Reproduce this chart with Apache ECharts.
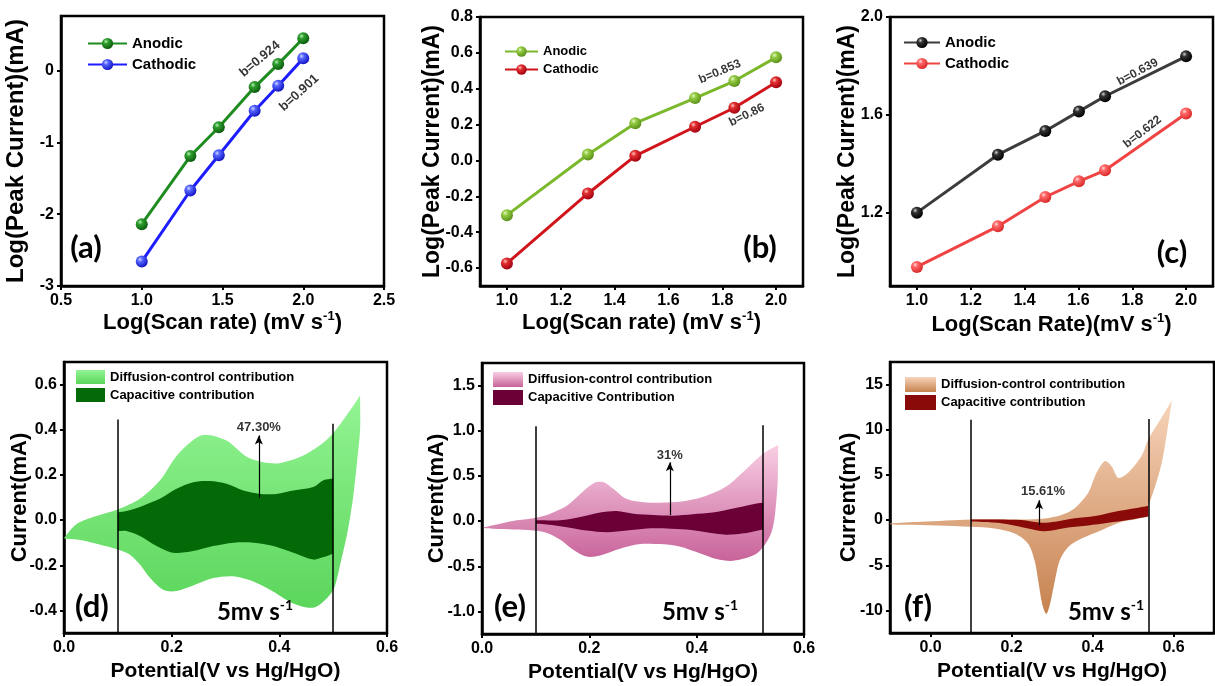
<!DOCTYPE html>
<html><head><meta charset="utf-8">
<script src="https://cdn.jsdelivr.net/npm/echarts@6/dist/echarts.min.js"></script>
<style>html,body{margin:0;padding:0;background:#fff}#c{width:1215px;height:686px}</style>
</head><body><div id="c"></div>
<script>
// ---------- DATA ----------
const scanLogAB = [1.0, 1.301, 1.477, 1.699, 1.845, 2.0];
const aAnodic   = [-2.14, -1.19, -0.79, -0.23, 0.09, 0.45];
const aCathodic = [-2.66, -1.67, -1.18, -0.56, -0.21, 0.17];
const bAnodic   = [-0.305, 0.033, 0.208, 0.348, 0.443, 0.575];
const bCathodic = [-0.574, -0.184, 0.026, 0.188, 0.294, 0.436];
const scanLogC  = [1.0, 1.301, 1.477, 1.602, 1.699, 2.0];
const cAnodic   = [1.2, 1.437, 1.534, 1.614, 1.676, 1.839];
const cCathodic = [0.978, 1.144, 1.264, 1.328, 1.373, 1.605];

const dDiffusion = [[0,-0.08],[0.023,-0.018],[0.06,0.018],[0.1,0.047],[0.141,0.094],[0.178,0.175],[0.209,0.284],[0.24,0.355],[0.262,0.378],[0.302,0.352],[0.339,0.28],[0.37,0.256],[0.40,0.252],[0.439,0.28],[0.476,0.333],[0.5,0.385],[0.526,0.467],[0.55,0.552],
  [0.55,0.40],[0.544,0.25],[0.537,0.10],[0.527,-0.048],[0.513,-0.197],[0.502,-0.30],[0.488,-0.347],[0.463,-0.388],
  [0.426,-0.369],[0.389,-0.317],[0.352,-0.272],[0.314,-0.249],[0.277,-0.257],[0.24,-0.29],[0.209,-0.314],[0.185,-0.31],[0.16,-0.257],[0.141,-0.197],[0.122,-0.152],[0.1,-0.13],[0.066,-0.108],[0.035,-0.09],[0.003,-0.082]];
const dCapacitive = [[0.1,0.034],[0.116,0.04],[0.147,0.064],[0.178,0.094],[0.209,0.139],[0.24,0.168],[0.271,0.173],[0.302,0.161],[0.333,0.131],[0.364,0.116],[0.395,0.116],[0.426,0.131],[0.463,0.146],[0.482,0.176],[0.5,0.184],
  [0.5,-0.149],[0.482,-0.164],[0.463,-0.175],[0.426,-0.145],[0.389,-0.115],[0.352,-0.10],[0.315,-0.10],[0.277,-0.115],[0.24,-0.137],[0.203,-0.145],[0.172,-0.115],[0.141,-0.07],[0.116,-0.048],[0.1,-0.048]];

const eDiffusion = [[0.003,-0.075],[0.034,-0.03],[0.065,0.008],[0.101,0.037],[0.127,0.082],[0.158,0.169],[0.183,0.30],[0.208,0.42],[0.227,0.43],[0.245,0.356],[0.27,0.244],[0.307,0.206],[0.344,0.206],[0.381,0.225],[0.418,0.281],[0.455,0.382],[0.493,0.58],[0.524,0.749],[0.552,0.843],
  [0.551,0.45],[0.546,0.075],[0.54,-0.112],[0.527,-0.262],[0.508,-0.374],
  [0.468,-0.44],[0.437,-0.42],[0.406,-0.356],[0.368,-0.281],[0.331,-0.255],[0.294,-0.255],[0.257,-0.307],[0.22,-0.382],[0.195,-0.393],[0.17,-0.318],[0.146,-0.206],[0.121,-0.131],[0.096,-0.105],[0.059,-0.094],[0.022,-0.086]];
const eCapacitive = [[0.101,0.008],[0.146,0.008],[0.183,0.045],[0.22,0.094],[0.251,0.112],[0.282,0.082],[0.319,0.067],[0.356,0.06],[0.393,0.075],[0.43,0.094],[0.468,0.139],[0.505,0.187],[0.524,0.206],
  [0.524,-0.094],[0.493,-0.131],[0.455,-0.15],[0.418,-0.124],[0.381,-0.094],[0.344,-0.082],[0.307,-0.082],[0.27,-0.105],[0.233,-0.124],[0.195,-0.105],[0.158,-0.067],[0.121,-0.037],[0.101,-0.03]];

const fDiffusion = [[-0.1,-0.37],[-0.023,-0.19],[0.1,0.07],[0.224,0.07],[0.282,0.18],[0.323,0.56],[0.356,1.31],[0.389,2.99],[0.41,5.23],[0.431,6.53],[0.447,5.97],[0.464,4.67],[0.488,5.23],[0.521,7.09],[0.538,8.96],[0.563,10.8],[0.596,13.25],
  [0.585,10.0],[0.571,6.35],[0.546,2.6],[0.521,0.37],
  [0.472,-0.19],[0.422,-1.12],[0.373,-2.05],[0.34,-2.99],[0.319,-4.48],[0.307,-6.72],[0.295,-9.33],[0.286,-10.4],[0.276,-9.33],[0.266,-6.72],[0.257,-4.48],[0.241,-2.61],[0.208,-1.49],[0.158,-0.93],[0.1,-0.75],[0.018,-0.6],[-0.064,-0.52],[-0.1,-0.45]];
const fCapacitive = [[0.1,0.07],[0.166,0.07],[0.224,0.0],[0.274,-0.3],[0.307,-0.19],[0.356,0.19],[0.406,0.45],[0.455,0.93],[0.505,1.31],[0.538,1.6],
  [0.538,0.4],[0.488,0],[0.439,-0.3],[0.389,-0.6],[0.34,-0.82],[0.282,-1.23],[0.241,-0.93],[0.191,-0.45],[0.141,-0.22],[0.1,-0.15]];

const ticksAx = [0.5,1.0,1.5,2.0,2.5], ticksAy = [-3,-2,-1,0];
const ticksBCx = [1.0,1.2,1.4,1.6,1.8,2.0];
const ticksBy = [-0.6,-0.4,-0.2,0.0,0.2,0.4,0.6,0.8];
const ticksCy = [1.2,1.6,2.0];
const ticksDEFx = [0.0,0.2,0.4,0.6];
const ticksDy = [-0.4,-0.2,0.0,0.2,0.4,0.6];
const ticksEy = [-1.0,-0.5,0.0,0.5,1.0,1.5];
const ticksFy = [-10,-5,0,5,10,15];

// ---------- CHART ----------
const F = 'Liberation Sans';
const chart = echarts.init(document.getElementById('c'));
const G = echarts.graphic;

function sphere(hi, base, dark){
  return new G.RadialGradient(0.36,0.32,0.7,[{offset:0,color:hi},{offset:0.3,color:base},{offset:1,color:dark}]);
}
function vgrad(c1,c2){ return new G.LinearGradient(0,0,0,1,[{offset:0,color:c1},{offset:1,color:c2}]); }

function axis(gi,min,max,ticks,dec,name,gap,fs,isX){
  return {
    type:'value', gridIndex:gi, min, max, position: isX?'bottom':'left',
    name, nameLocation:'middle', nameGap:gap, nameMoveOverlap:false,
    nameTextStyle:{fontFamily:F,fontWeight:'bold',fontSize:fs,color:'#000',lineHeight:26,
      rich:{sup:{fontFamily:F,fontWeight:'bold',fontSize:13,color:'#000',verticalAlign:'top',lineHeight:16}}},
    axisLine:{show:true,onZero:false,lineStyle:{color:'#000',width:2.5}},
    axisTick:{show:true,inside:false,length:4,lineStyle:{color:'#000',width:2},customValues:ticks},
    axisLabel:{customValues:ticks,formatter:v=>Number(v).toFixed(dec),fontFamily:F,fontWeight:'bold',fontSize:16,color:'#000',margin:7},
    splitLine:{show:false}
  };
}

function lineSeries(name,gi,xs,ys,color,hi,base,dark){
  return {type:'line',name,xAxisIndex:gi,yAxisIndex:gi,data:xs.map((x,i)=>[x,ys[i]]),
    symbol:'circle',symbolSize:12,lineStyle:{color,width:3},itemStyle:{color:sphere(hi,base,dark)},z:4};
}
// corners: indices of vertices drawn as sharp corners (rendering style only)
function polySeries(name,gi,pts,fill,z,corners){
  return {type:'custom',name,xAxisIndex:gi,yAxisIndex:gi,data:pts,itemStyle:{color:fill},z,silent:true,clip:true,
    renderItem:(params,api)=>{
      if(params.dataIndex!==0) return null;
      const px=[];
      pts.forEach((p,i)=>{const c=api.coord(p); px.push(c); if(corners.indexOf(i)>=0) px.push([c[0],c[1]]);});
      return {type:'polygon',shape:{points:px,smooth:0.3},style:{fill:fill}};
    }};
}
function annSeries(gi,items,fs,lines){
  return {type:'scatter',name:'ann'+gi,xAxisIndex:gi,yAxisIndex:gi,symbolSize:0,silent:true,z:6,
    data:items.map(it=>({value:it.v,name:it.t,label:{rotate:it.r||0}})),
    label:{show:true,position:'inside',formatter:p=>p.name,fontFamily:F,fontWeight:'bold',fontSize:fs,color:'#000'},
    markLine: lines ? {silent:true,symbol:['none','none'],label:{show:false},animation:false,
      lineStyle:{color:'#000',width:1.5,type:'solid'},data:lines} : undefined};
}
function vline(x,y0,y1){ return [{coord:[x,y0]},{coord:[x,y1]}]; }
function arrow(x,y0,y1){ return [{coord:[x,y0],lineStyle:{width:1.2}},{coord:[x,y1],symbol:'arrow',symbolSize:[6,9]}]; }

function legend(left,top,names,iw,ih,gap,fs,icon){
  const l = {left,top,orient:'vertical',padding:0,itemWidth:iw,itemHeight:ih,itemGap:gap,selectedMode:false,
    data:names,formatter:n=>n.split('#')[0],
    textStyle:{fontFamily:F,fontWeight:'bold',fontSize:fs,color:'#000'}};
  if(icon) l.icon=icon;
  return l;
}

const option = {
  animation:false,
  backgroundColor:'#fff',
  grid:[
    {left:61,top:16,width:323,height:270},
    {left:480,top:17,width:323,height:269},
    {left:890,top:17,width:323,height:269},
    {left:64,top:362,width:323,height:271},
    {left:482,top:363,width:322,height:271},
    {left:890,top:362,width:324,height:271}
  ].map(g=>Object.assign(g,{show:true,borderColor:'#000',borderWidth:2.5,outerBoundsMode:'none',containLabel:false})),
  xAxis:[
    axis(0,0.5,2.5,ticksAx,1,'Log(Scan rate) (mV s{sup|-1})',24,22,true),
    axis(1,0.9,2.1,ticksBCx,1,'Log(Scan rate) (mV s{sup|-1})',24,22,true),
    axis(2,0.9,2.1,ticksBCx,1,'Log(Scan Rate)(mV s{sup|-1})',26,22,true),
    axis(3,0,0.6,ticksDEFx,1,'Potential(V vs Hg/HgO)',25,21,true),
    axis(4,0,0.6,ticksDEFx,1,'Potential(V vs Hg/HgO)',25,21,true),
    axis(5,-0.1,0.7,ticksDEFx,1,'Potential(V vs Hg/HgO)',25,21,true)
  ],
  yAxis:[
    axis(0,-3,0.76,ticksAy,0,'Log(Peak Current)(mA)',32,24,false),
    axis(1,-0.7,0.8,ticksBy,1,'Log(Peak Current)(mA)',34,23,false),
    axis(2,0.9,2.0,ticksCy,1,'Log(Peak Current)(mA)',29,23,false),
    axis(3,-0.5,0.7,ticksDy,1,'Current(mA)',31,22,false),
    axis(4,-1.25,1.75,ticksEy,1,'Current(mA)',32,22,false),
    axis(5,-12.5,17.5,ticksFy,0,'Current(mA)',28,22,false)
  ],
  legend:[
    legend(87,36,['Anodic#a','Cathodic#a'],39,14,6,15),
    legend(504,45,['Anodic#b','Cathodic#b'],33,13,5,13),
    legend(903,35,['Anodic#c','Cathodic#c'],36,14,6,15),
    legend(76,370,['Diffusion-control contribution#d','Capacitive contribution#d'],29,14,4,13,'rect'),
    legend(493,372,['Diffusion-control contribution#e','Capacitive Contribution#e'],30,15,3,13,'rect'),
    legend(905,377,['Diffusion-control contribution#f','Capacitive contribution#f'],31,15,3,13,'rect')
  ],
  series:[
    lineSeries('Anodic#a',0,scanLogAB,aAnodic,'#1f8c1f','#b8f0b8','#2e9e2e','#0b5a0b'),
    lineSeries('Cathodic#a',0,scanLogAB,aCathodic,'#1d1dff','#d0d6ff','#5566ff','#1212c0'),
    lineSeries('Anodic#b',1,scanLogAB,bAnodic,'#7cb82c','#e6f7c8','#94cc44','#5a8f18'),
    lineSeries('Cathodic#b',1,scanLogAB,bCathodic,'#d0151b','#ffc8c8','#e23030','#a00010'),
    lineSeries('Anodic#c',2,scanLogC,cAnodic,'#3c3c3c','#d0d0d0','#333333','#000000'),
    lineSeries('Cathodic#c',2,scanLogC,cCathodic,'#f04444','#ffd8d8','#ff6666','#d82828'),
    polySeries('Diffusion-control contribution#d',3,dDiffusion,vgrad('#93f493','#5cd65c'),2,[17]),
    polySeries('Capacitive contribution#d',3,dCapacitive,'#046a08',3,[0,14,15,28]),
    polySeries('Diffusion-control contribution#e',4,eDiffusion,vgrad('#f9cfe4','#c8639a'),2,[18]),
    polySeries('Capacitive Contribution#e',4,eCapacitive,'#6b0036',3,[0,12,13,25]),
    polySeries('Diffusion-control contribution#f',5,fDiffusion,vgrad('#f7d4bb','#c6824f'),2,[16]),
    polySeries('Capacitive contribution#f',5,fCapacitive,'#8a0a0a',3,[0,9,10,19]),
    annSeries(0,[{v:[1.732,0.16],t:'b=0.924',r:40},{v:[1.975,-0.31],t:'b=0.901',r:42}],13),
    annSeries(1,[{v:[1.791,0.495],t:'b=0.853',r:23},{v:[1.891,0.253],t:'b=0.86',r:26}],12),
    annSeries(2,[{v:[1.82,1.775],t:'b=0.639',r:28},{v:[1.838,1.53],t:'b=0.622',r:38}],12),
    annSeries(3,[{v:[0.362,0.41],t:'47.30%'}],13,[vline(0.1,0.445,-0.5),vline(0.5,0.427,-0.5),arrow(0.362,0.097,0.375)]),
    annSeries(4,[{v:[0.35,0.73],t:'31%'}],13,[vline(0.101,1.05,-1.25),vline(0.524,1.06,-1.25),arrow(0.35,0.067,0.65)]),
    annSeries(5,[{v:[0.278,3.2],t:'15.61%'}],13,[vline(0.1,11.1,-12.5),vline(0.538,11.2,-12.5),arrow(0.268,-0.56,2.2)])
  ],
  graphic:[
    ...[['(a)',86,248],['(b)',760,248],['(c)',1172,253],['(d)',92,607],['(e)',510,607],['(f)',918,607]].map(([t,x,y])=>({
      type:'text',x,y,z:10,silent:true,style:{text:t,fontFamily:'Lato',fontWeight:'bold',fontSize:31,fill:'#000',align:'center',verticalAlign:'middle'}})),
    ...[[255,612],[700,612],[1106,612]].map(([x,y])=>({
      type:'text',x,y,z:10,silent:true,style:{text:'{a|5mv s}{b|-1}',align:'center',verticalAlign:'middle',
        rich:{a:{fontFamily:'Lato',fontWeight:'bold',fontSize:24,fill:'#000',lineHeight:28},b:{fontFamily:'Lato',fontWeight:'bold',fontSize:14,fill:'#000',verticalAlign:'top',lineHeight:14}}}}))
  ]
};
chart.setOption(option);
</script></body></html>
